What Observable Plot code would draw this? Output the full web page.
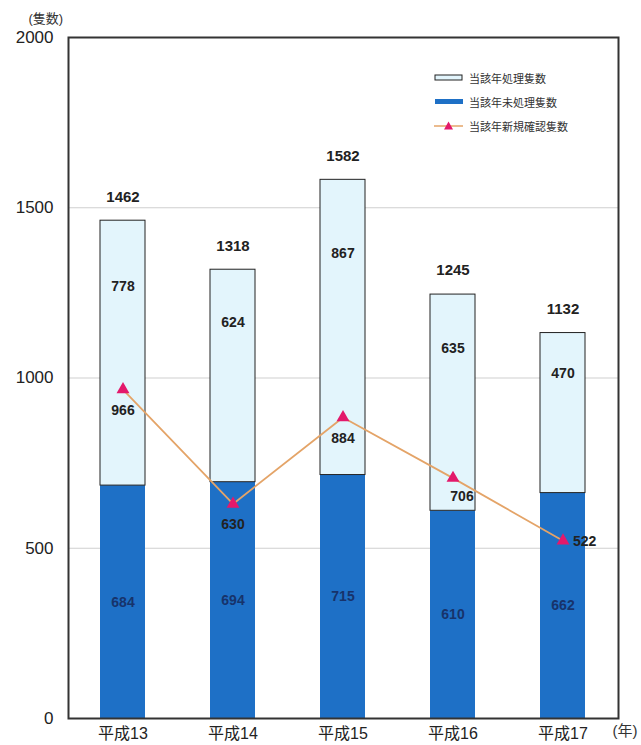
<!DOCTYPE html>
<html>
<head>
<meta charset="utf-8">
<script src="https://cdn.jsdelivr.net/npm/d3@7"></script>
<script src="https://cdn.jsdelivr.net/npm/@observablehq/plot@0.6"></script>
<style>
  body { margin: 0; background: #fff; font-family: "Liberation Sans", "Noto Sans CJK JP", sans-serif; }
  #wrap { position: relative; width: 641px; height: 745px; }
  #legend { position: absolute; left: 434px; top: 66px; font-size: 11px; color: #333; font-family: "Noto Sans CJK JP", sans-serif; }
  #legend .row { display: flex; align-items: center; height: 24px; }
  #legend svg { margin-right: 5px; }
</style>
</head>
<body>
<div id="wrap"><div id="legend"></div></div>
<script>
const years = ["平成13", "平成14", "平成15", "平成16", "平成17"];
const processed = [778, 624, 867, 635, 470];     // 当該年処理隻数
const unprocessed = [684, 694, 715, 610, 662];   // 当該年未処理隻数
const totals = [1462, 1318, 1582, 1245, 1132];
const newConfirmed = [966, 630, 884, 706, 522];  // 当該年新規確認隻数
const yTicks = [0, 500, 1000, 1500, 2000];
const gridTicks = [500, 1000, 1500];
const seriesNames = ["当該年処理隻数", "当該年未処理隻数", "当該年新規確認隻数"];

const rows = years.map((y, i) => ({
  year: y, proc: processed[i], unproc: unprocessed[i], total: totals[i], nc: newConfirmed[i], i
}));

const LIGHT = "#e3f5fc", DARK = "#1e70c6", LINE = "#e4a468", TRI = "#e3196b";
const font = `"Liberation Sans", "Noto Sans CJK JP", sans-serif`;

const chart = Plot.plot({
  width: 641,
  height: 745,
  marginLeft: 68,
  marginRight: 23,
  marginTop: 37,
  marginBottom: 27,
  style: { fontFamily: font, background: "transparent", overflow: "visible" },
  x: { domain: years, paddingInner: 0.59, paddingOuter: 0.295, label: null },
  y: { domain: [0, 2000], label: null },
  marks: [
    Plot.ruleY(gridTicks, { stroke: "#cfcfcf", strokeWidth: 1 }),
    Plot.barY(rows, { x: "year", y1: 0, y2: "unproc", fill: DARK }),
    Plot.barY(rows, { x: "year", y1: "unproc", y2: "total", fill: LIGHT, stroke: "#222", strokeWidth: 1 }),
    Plot.frame({ stroke: "#333", strokeWidth: 2 }),
    Plot.axisY({ ticks: yTicks, tickFormat: d => String(d), tickSize: 0, tickPadding: 15, fontSize: 17, fill: "#222", label: null }),
    Plot.axisX({ tickSize: 0, tickPadding: 9, fontSize: 16, fill: "#222", label: null }),
    Plot.text(["(隻数)"], { frameAnchor: "top-left", dx: -40, dy: -24, textAnchor: "start", fontSize: 13, fill: "#333" }),
    Plot.text(["(年)"], { frameAnchor: "bottom-right", dx: -6, dy: 17, textAnchor: "start", fontSize: 15, fill: "#333" }),
    // totals above bars
    Plot.text(rows, { x: "year", y: "total", text: d => String(d.total), dy: -24, fontSize: 15, fontWeight: "bold", fill: "#222", style: "letter-spacing:1px" }),
    // processed label in light segment
    Plot.text(rows, { x: "year", y: d => d.unproc + d.proc * 0.75, text: d => String(d.proc), fontSize: 14, fontWeight: "bold", fill: "#222" }),
    // unprocessed label in dark segment
    Plot.text(rows, { x: "year", y: d => d.unproc / 2, text: d => String(d.unproc), fontSize: 14, fontWeight: "bold", fill: "#17336b" }),
    // new confirmed line
    Plot.line(rows, { x: "year", y: "nc", stroke: LINE, strokeWidth: 1.8 }),
    Plot.dot(rows, { x: "year", y: "nc", symbol: "triangle", r: 4.8, fill: TRI, stroke: "none" }),
    Plot.text(rows.filter(d => d.i < 3), { x: "year", y: "nc", text: d => String(d.nc), dy: 21, fontSize: 14, fontWeight: "bold", fill: "#222" }),
    Plot.text(rows.filter(d => d.i === 3), { x: "year", y: "nc", text: d => String(d.nc), dx: 9, dy: 18, fontSize: 14, fontWeight: "bold", fill: "#222" }),
    Plot.text(rows.filter(d => d.i === 4), { x: "year", y: "nc", text: d => String(d.nc), dx: 10, dy: 1, textAnchor: "start", fontSize: 14, fontWeight: "bold", fill: "#222" })
  ]
});
document.getElementById("wrap").prepend(chart);

// legend
const legend = document.getElementById("legend");
const sw = [
  `<svg width="30" height="10"><rect x="1" y="2" width="27" height="5" fill="${LIGHT}" stroke="#222" stroke-width="1"/></svg>`,
  `<svg width="30" height="10"><rect x="1" y="2" width="28" height="5" fill="${DARK}"/></svg>`,
  `<svg width="30" height="12"><line x1="0" y1="6" x2="29" y2="6" stroke="${LINE}" stroke-width="1.5"/><path d="M14.5,1.5 L19,9.5 L10,9.5 Z" fill="${TRI}"/></svg>`
];
seriesNames.forEach((n, i) => {
  const r = document.createElement("div");
  r.className = "row";
  r.innerHTML = sw[i] + `<span>${n}</span>`;
  legend.appendChild(r);
});
</script>
</body>
</html>
